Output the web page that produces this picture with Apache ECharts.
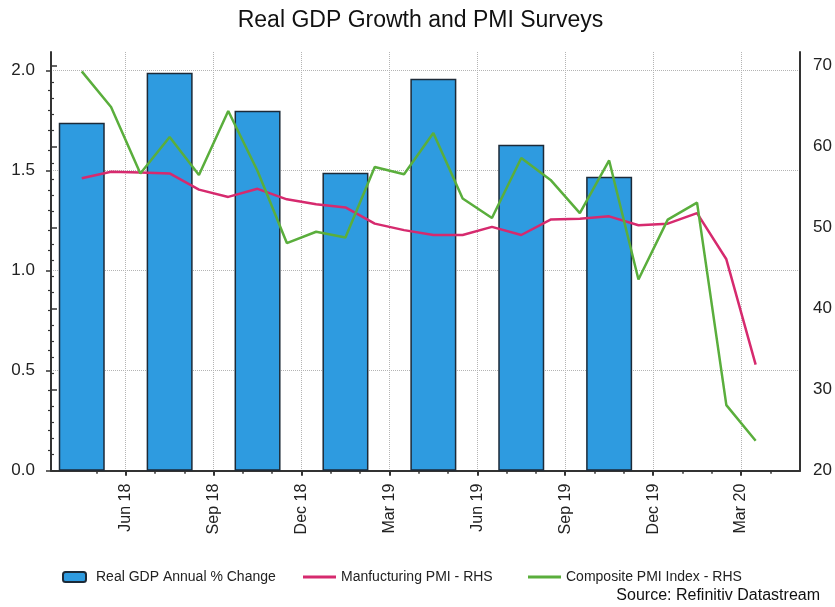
<!DOCTYPE html>
<html>
<head>
<meta charset="utf-8">
<title>Real GDP Growth and PMI Surveys</title>
<script src="https://cdn.jsdelivr.net/npm/echarts@6/dist/echarts.min.js"></script>
<style>
  html, body { margin: 0; padding: 0; background: #fff; }
  #chart { width: 835px; height: 607px; }
</style>
</head>
<body>
<div id="chart"></div>
<script>
// Monthly observations, April 2018 to March 2020
const months = ['Apr 18','May 18','Jun 18','Jul 18','Aug 18','Sep 18','Oct 18','Nov 18','Dec 18',
                'Jan 19','Feb 19','Mar 19','Apr 19','May 19','Jun 19','Jul 19','Aug 19','Sep 19',
                'Oct 19','Nov 19','Dec 19','Jan 20','Feb 20','Mar 20'];
const manufacturingPMI = [56.1, 56.9, 56.8, 56.7, 54.7, 53.8, 54.8, 53.5, 52.9, 52.5, 50.5, 49.7,
                          49.1, 49.1, 50.1, 49.1, 51.0, 51.1, 51.4, 50.3, 50.5, 51.8, 46.1, 33.1];
const compositePMI = [69.3, 64.9, 56.7, 61.2, 56.5, 64.4, 57.0, 48.1, 49.5, 48.8, 57.5, 56.6,
                      61.7, 53.6, 51.2, 58.6, 55.9, 51.8, 58.3, 43.6, 51.0, 53.1, 28.1, 23.7];

// Quarterly GDP, plotted at the first month of each quarter
const gdpQuarterMonths = ['Apr 18','Jul 18','Oct 18','Jan 19','Apr 19','Jul 19','Oct 19'];
const gdpGrowth = [1.74, 1.99, 1.80, 1.49, 1.96, 1.63, 1.47];

// Axis tick labels (quarter boundaries)
const quarterTickLabels = ['Jun 18','Sep 18','Dec 18','Mar 19','Jun 19','Sep 19','Dec 19','Mar 20'];
const leftTicks = [0, 0.5, 1.0, 1.5, 2.0];
const rightTicks = [20, 30, 40, 50, 60, 70];

// x position in months counted from 1 March 2018; each observation sits mid-month
const monthPos = label => months.indexOf(label) + 1.5;
const firstTickPos = 3; // 1 June 2018

const FONT = 'Liberation Sans, Arial, sans-serif';
const AXIS_COLOR = '#333';
const GRID_COLOR = '#b4b4b4';
const GDP_COLOR = '#2E9BE0';
const MANUF_COLOR = '#D62A6E';
const COMPOSITE_COLOR = '#5AAE3C';

// pixel geometry of the time axis: px = X0 + PX_PER_MONTH * t
const X0 = 37.8, PX_PER_MONTH = 29.3, W = 835, H = 607;
const PLOT_L = 51, PLOT_R = 800, PLOT_T = 52, PLOT_B = 470.7;
const px = t => X0 + PX_PER_MONTH * t;
const tOf = p => (p - X0) / PX_PER_MONTH;

const chart = echarts.init(document.getElementById('chart'), null, { renderer: 'canvas' });

const hiddenAxis = i => ({ gridIndex: i, type: 'value', show: false });
const legendText = { fontFamily: FONT, fontSize: 14, color: '#222' };

const option = {
  animation: false,
  backgroundColor: '#fff',
  graphic: [
    { type: 'text', x: 420.5, y: 21,
      style: { text: 'Real GDP Growth and PMI Surveys', font: '23px ' + FONT, fill: '#111',
               textAlign: 'center', textVerticalAlign: 'middle' } },
    { type: 'text', x: 820, y: 596,
      style: { text: 'Source: Refinitiv Datastream', font: '16px ' + FONT, fill: '#111',
               textAlign: 'right', textVerticalAlign: 'middle' } }
  ],
  legend: [
    { data: ['Real GDP Annual % Change'], left: 62, top: 570, padding: 0,
      itemWidth: 23, itemHeight: 10,
      textStyle: Object.assign({ padding: [0, 0, 0, 5] }, legendText) },
    { data: [{ name: 'Manfucturing PMI - RHS', icon: 'rect', itemStyle: { color: MANUF_COLOR } }],
      left: 303, top: 570, padding: 0, itemWidth: 33, itemHeight: 3, textStyle: legendText },
    { data: [{ name: 'Composite PMI Index - RHS', icon: 'rect', itemStyle: { color: COMPOSITE_COLOR } }],
      left: 528, top: 570, padding: 0, itemWidth: 33, itemHeight: 3, textStyle: legendText }
  ],
  grid: [
    // 0: plotting area
    { left: PLOT_L, right: W - PLOT_R, top: PLOT_T, bottom: H - PLOT_B },
    // 1: quarterly ticks, labels and vertical grid lines
    { left: px(3), right: W - px(24), top: PLOT_T, bottom: H - PLOT_B },
    // 2: monthly ticks
    { left: px(2), right: W - px(25), top: PLOT_T, bottom: H - PLOT_B },
    // 3: left value scale 0 - 2.0
    { left: PLOT_L, right: W - PLOT_R, top: 70.7, bottom: H - PLOT_B },
    // 4: right value scale 20 - 70
    { left: PLOT_L, right: W - PLOT_R, top: 65.7, bottom: H - PLOT_B }
  ],
  xAxis: [
    { gridIndex: 0, type: 'value', min: tOf(PLOT_L), max: tOf(PLOT_R),
      axisLine: { show: true, onZero: false, lineStyle: { color: AXIS_COLOR, width: 2 } },
      axisTick: { show: false }, axisLabel: { show: false }, splitLine: { show: false } },
    { gridIndex: 1, type: 'value', min: 3, max: 24, interval: 3,
      axisLine: { show: false },
      axisTick: { show: true, length: 5, lineStyle: { color: AXIS_COLOR, width: 2 } },
      axisLabel: { show: true, rotate: 90, margin: 13, fontFamily: FONT, fontSize: 16, color: '#222',
                   padding: [0, 0, 10, 0],
                   formatter: v => quarterTickLabels[Math.round((v - firstTickPos) / 3)] || '' },
      splitLine: { show: true, lineStyle: { color: GRID_COLOR, type: 'dotted', width: 1 } } },
    { gridIndex: 2, type: 'value', min: 2, max: 25, interval: 1,
      axisLine: { show: false },
      axisTick: { show: true, length: 3, lineStyle: { color: AXIS_COLOR, width: 1.5 } },
      axisLabel: { show: false }, splitLine: { show: false } },
    hiddenAxis(3),
    hiddenAxis(4)
  ],
  yAxis: [
    { gridIndex: 0, type: 'value', position: 'left', min: 0, max: (PLOT_B - PLOT_T) / 200,
      axisLine: { show: true, lineStyle: { color: AXIS_COLOR, width: 2 } },
      axisTick: { show: false }, axisLabel: { show: false }, splitLine: { show: false } },
    { gridIndex: 0, type: 'value', position: 'right', min: 20, max: 20 + (PLOT_B - PLOT_T) / 8.1,
      axisLine: { show: true, lineStyle: { color: AXIS_COLOR, width: 2 } },
      axisTick: { show: false }, axisLabel: { show: false }, splitLine: { show: false } },
    hiddenAxis(1),
    hiddenAxis(2),
    { gridIndex: 3, type: 'value', position: 'left',
      min: leftTicks[0], max: leftTicks[leftTicks.length - 1], interval: 0.5,
      axisLine: { show: false },
      axisTick: { show: true, length: 5, lineStyle: { color: AXIS_COLOR, width: 1.5 } },
      minorTick: { show: true, splitNumber: 5, length: 3, lineStyle: { color: AXIS_COLOR, width: 1.2 } },
      axisLabel: { show: true, margin: 16, fontFamily: FONT, fontSize: 17, color: '#222',
                   formatter: v => v.toFixed(1) },
      splitLine: { show: true, lineStyle: { color: GRID_COLOR, type: 'dotted', width: 1 } } },
    { gridIndex: 4, type: 'value', position: 'right',
      min: rightTicks[0], max: rightTicks[rightTicks.length - 1], interval: 10,
      axisLine: { show: false },
      axisTick: { show: true, length: 6, lineStyle: { color: AXIS_COLOR, width: 1.5 } },
      minorTick: { show: true, splitNumber: 5, length: 3, lineStyle: { color: AXIS_COLOR, width: 1.2 } },
      axisLabel: { show: true, margin: 13, fontFamily: FONT, fontSize: 17, color: '#222' },
      splitLine: { show: false } }
  ],
  series: [
    { name: 'Real GDP Annual % Change', type: 'bar', xAxisIndex: 0, yAxisIndex: 0,
      barWidth: 46,
      itemStyle: { color: GDP_COLOR, borderColor: '#1C2A38', borderWidth: 1.5 },
      data: gdpQuarterMonths.map((m, i) => [monthPos(m), gdpGrowth[i]]) },
    { name: 'Manfucturing PMI - RHS', type: 'line', xAxisIndex: 0, yAxisIndex: 1,
      symbol: 'none', color: MANUF_COLOR,
      lineStyle: { color: MANUF_COLOR, width: 2.5 },
      data: months.map((m, i) => [monthPos(m), manufacturingPMI[i]]) },
    { name: 'Composite PMI Index - RHS', type: 'line', xAxisIndex: 0, yAxisIndex: 1,
      symbol: 'none', color: COMPOSITE_COLOR,
      lineStyle: { color: COMPOSITE_COLOR, width: 2.5 },
      data: months.map((m, i) => [monthPos(m), compositePMI[i]]) }
  ]
};

chart.setOption(option);
</script>
</body>
</html>
